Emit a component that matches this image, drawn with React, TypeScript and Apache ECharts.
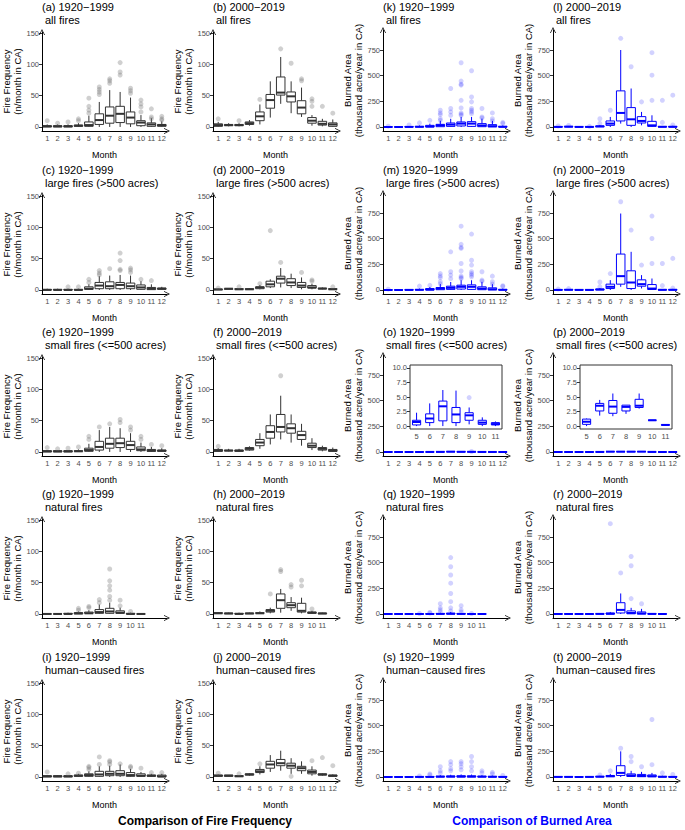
import React, { useEffect, useRef } from "react";
import * as echarts from "echarts";

const FONT = "'Liberation Sans', Arial, Helvetica, sans-serif";

// ---------- categories ----------
const MONTHS = ["1", "2", "3", "4", "5", "6", "7", "8", "9", "10", "11", "12"];
const MONTHS_NAT_EARLY = ["1", "3", "4", "5", "6", "7", "8", "9", "10", "11"];
const MONTHS_NAT_LATE = ["1", "2", "3", "4", "5", "6", "7", "8", "9", "10", "11"];
const INSET_MONTHS = ["5", "6", "7", "8", "9", "10", "11"];
const FREQ_TICKS = [0, 50, 100, 150];
const AREA_TICKS = [0, 250, 500, 750];
const INSET_TICKS = [0, 2.5, 5, 7.5, 10];

// ---------- fire frequency: [min, q1, median, q3, max] per month; outliers [month, value] ----------
const aBox = [[0,0,1,2,4],[0,0,1,2,4],[0,0,1,2,4],[0,1,2,3,6],[0,1,3,8,18],[0,4,11,21,40],[0,6,18,32,59],[0,7,21,33,56],[0,5,15,24,47],[0,2,7,10,19],[0,1,4,6.5,14],[0,1,3,4,9]];
const aOut = [[1,10],[2,6],[3,8],[4,10],[4,13],[5,22],[5,27],[5,33],[5,46],[6,52],[6,56],[6,60],[6,64],[7,70],[7,74],[7,77],[8,83],[8,88],[8,103],[9,54],[9,58],[9,62],[10,24],[10,32],[10,37],[10,43],[11,13],[11,16],[11,29],[12,11],[12,13],[12,17]];
const bBox = [[0,1,3,5,8],[1,2,3,4,6],[1,2,3,4,6],[2,4,6,8,11],[4,10,17,24,36],[15,30,43,52,73],[37,51,55,80,112],[22,40,49,56,73],[16,21,31,42,63],[2,6,10,15,19],[1,3,5,9,13],[0,1,4,6.5,12]];
const bOut = [[1,13],[3,10],[5,44],[7,125],[8,102],[9,74],[9,77],[10,33],[10,41],[10,45],[11,33],[12,22]];
const cBox = [[0,0,0,1,2],[0,0,0,1,2],[0,0,0,1,2],[0,0,0,1,2],[0,1,2,5,9],[0,2,7,12,22],[0,2,6,13,23],[0,2,8,12,24],[0,2,6,11,23],[0,1,4,8,14],[0,0.5,2,4,9],[0,1,2,3,5]];
const cOut = [[3,5],[4,5],[5,12],[5,17],[6,24],[6,27],[6,31],[7,34],[8,31],[8,33],[8,47],[8,59],[9,28],[9,32],[9,35],[10,17],[11,15]];
const dBox = [[0,0,1,1,2],[1,1,2,2,3],[0,1,1,2,3],[0,1,1,2,3],[1,2,4,5,8],[3,5,9,14,17],[4,11,18,22,35],[3,7,12,18,26],[1,4,7,12,20],[1,3,4,7,10],[1,2,2,3,4],[0,1,1,2,3]];
const dOut = [[1,3],[3,5],[5,10],[6,95],[7,44],[9,28],[10,14],[10,16],[12,5]];
const eBox = [[0,0,1,2,3],[0,0,1,2,3],[0,0,1,2,3],[0,1,1,2,4],[0,1,3,6,13],[0,3,8,17,35],[0,6,13,22,40],[0,7,14,22,38],[0,4,11,17,30],[0,2,4,8,15],[0,1,2,4,8],[0,1,2,3,6]];
const eOut = [[1,7],[2,5],[3,6],[4,8],[5,20],[5,25],[6,40],[7,45],[8,47],[8,52],[9,35],[9,40],[10,20],[10,25],[11,12],[12,10]];
const fBox = [[0,1,2,4,6],[1,2,2,3,5],[0,1,2,3,5],[2,3,5,7,9],[5,10,15,20,30],[12,22,32,42,60],[20,32,40,60,90],[15,30,38,45,60],[10,20,27,33,45],[3,7,10,14,22],[1,3,5,7,10],[0,1,2,4,7]];
const fOut = [[1,9],[7,122]];
const gBox = [[0,0,0,0,1],[0,0,0,0,1],[0,0,0,1,2],[0,0,1,2,4],[0,1,1,3,6],[0,1,3,7,15],[0,1,4,9,18],[0,1,2,5,10],[0,0,0,1,2],[0,0,0,0,1]];
const gOut = [[5,6],[5,9],[6,10],[6,12],[7,18],[7,23],[8,22],[8,28],[8,38],[8,45],[8,53],[8,72],[9,13],[9,22],[10,4]];
const hBox = [[0,1,1,2,3],[0,0,1,1,2],[0,0,0,1,2],[0,0,1,1,2],[0,1,1,2,4],[1,3,5,7,10],[2,9,22,32,40],[5,10,14,18,27],[1,3,5,17,26],[0,1,2,3,5],[0,0,1,1,2]];
const hOut = [[6,32],[7,68],[7,71],[8,43],[8,47],[9,45],[9,54],[10,8]];
const iBox = [[0,0,1,2,3],[0,0,1,2,3],[0,0,1,2,3],[0,1,2,3,5],[0,1,3,5,9],[0,1,4,9,17],[0,2,5,9,18],[0,2,5,10,20],[0,1,3,7,13],[0,1,2,5,8],[0,1,2,3,5],[0,0,1,3,5]];
const iOut = [[1,8],[3,5],[4,6],[5,12],[5,15],[5,17],[6,20],[6,32],[7,20],[7,24],[7,26],[8,21],[9,15],[9,17],[10,14],[11,7],[12,7]];
const jBox = [[0,1,2,3,4],[1,1,2,3,3],[0,1,1,2,3],[2,3,4,5,6],[4,7,9,12,17],[8,14,20,25,35],[10,18,22,28,42],[5,14,18,22,30],[5,10,14,17,25],[2,5,8,11,17],[2,3,4,5,6],[0,1,2,3,4]];
const jOut = [[1,6],[3,5],[5,21],[8,1],[10,26],[11,31],[12,18]];

// ---------- burned area (thousand acre / year) ----------
const kBox = [[0,0,0,1,3],[0,0,0,1,2],[0,0,1,4,10],[0,0,2,6,15],[0,0,5,16,33],[0,3,16,26,60],[0,6,23,39,80],[0,10,33,49,98],[0,6,33,52,98],[0,3,15,33,81],[0,1,8,23,59],[0,0,2,6,15]];
const kOut = [[1,8],[3,20],[4,40],[5,65],[6,65],[6,81],[6,120],[6,137],[6,163],[7,114],[7,147],[7,180],[7,375],[8,114],[8,124],[8,137],[8,186],[8,260],[8,408],[8,417],[8,447],[8,626],[9,130],[9,147],[9,163],[9,180],[9,245],[9,293],[9,548],[10,88],[10,98],[10,180],[11,59],[11,81],[11,137],[12,35],[12,45]];
const lBox = [[0,0,1,3,6],[0,1,3,6,10],[0,0,1,2,4],[0,0,1,2,4],[0,2,6,10,20],[0,16,33,59,98],[33,59,137,352,750],[0,16,75,189,375],[16,39,59,101,147],[0,6,16,55,114],[0,0,2,5,10],[0,0,2,5,12]];
const lOut = [[1,10],[2,15],[4,6],[5,35],[5,80],[6,163],[7,864],[8,587],[9,245],[10,260],[10,505],[10,724],[11,45],[11,260],[12,20],[12,310]];
const mBox = [[0,0,0,1,3],[0,0,0,1,2],[0,0,1,3,8],[0,0,2,5,14],[0,0,4,14,30],[0,3,14,24,58],[0,6,21,37,78],[0,9,31,47,95],[0,6,31,50,95],[0,3,14,31,79],[0,1,7,21,57],[0,0,2,5,14]];
const mOut = [[1,8],[4,38],[5,45],[6,60],[6,80],[6,120],[6,137],[6,160],[7,110],[7,145],[7,178],[7,372],[8,112],[8,122],[8,135],[8,185],[8,258],[8,405],[8,415],[8,445],[8,622],[9,128],[9,145],[9,160],[9,178],[9,243],[9,290],[9,545],[10,86],[10,96],[10,178],[11,57],[11,80],[11,135],[12,35],[12,42]];
const nBox = [[0,0,1,2,5],[0,1,2,5,9],[0,0,1,2,4],[0,0,1,2,3],[0,1,5,9,18],[0,14,31,57,96],[31,57,135,350,745],[0,14,73,187,372],[15,37,57,99,145],[0,5,14,53,112],[0,0,2,4,9],[0,0,2,4,11]];
const nOut = [[1,9],[2,14],[5,32],[5,78],[6,160],[7,860],[8,584],[9,243],[10,258],[10,502],[10,720],[11,43],[11,258],[12,18],[12,308]];
const oBox = [[0,0,0,0.1,0.3],[0,0,0,0.1,0.3],[0,0,0.1,0.2,0.5],[0,0.1,0.2,0.4,0.8],[0,0.2,0.7,1.0,2.3],[0,0.6,1.3,2.1,3.9],[0,0.9,3.4,4.3,6.2],[0,0.6,2.0,3.2,6.1],[0.3,1.0,1.85,2.3,3.2],[0,0.3,0.6,1.0,1.5],[0,0.2,0.35,0.6,0.8],[0,0,0.1,0.2,0.4]];
const oOut = [[9,4.9]];
const pBox = [[0,0,0.1,0.2,0.4],[0,0,0.1,0.2,0.4],[0,0,0.1,0.2,0.3],[0,0.1,0.2,0.3,0.5],[0,0.3,0.75,1.2,1.3],[1.8,2.6,3.5,3.9,4.5],[1.7,2.2,3.35,4.4,5.6],[2.1,2.6,3.3,3.6,3.6],[3.0,3.2,3.5,4.6,5.6],[0.95,1,1,1,1.05],[0.1,0.15,0.2,0.25,0.3],[0,0,0.05,0.1,0.2]];
const pOut = [];
const qBox = [[0,0,0,0,0],[0,0,0,0,0],[0,0,0,0,1],[0,0,0,1,2],[0,0,0,2,5],[0,0,1,5,12],[0,0,2,8,20],[0,0,1,4,10],[0,0,0,1,2],[0,0,0,0,1]];
const qOut = [[5,5],[6,10],[6,15],[7,20],[7,40],[7,60],[7,100],[8,30],[8,60],[8,120],[8,200],[8,300],[8,380],[8,460],[8,550],[9,20],[9,40],[9,80],[10,5]];
const rBox = [[0,0,0,1,2],[0,0,0,1,2],[0,0,0,0,1],[0,0,0,0,1],[0,0,1,2,4],[0,0,2,10,20],[0,10,40,110,200],[0,2,10,30,60],[0,0,5,20,50],[0,0,1,3,6],[0,0,0,1,2]];
const rOut = [[6,880],[7,400],[8,150],[8,470],[8,560],[9,100]];
const sBox = [[0,0,0,1,2],[0,0,0,1,2],[0,0,0,1,3],[0,0,1,2,5],[0,0,1,4,9],[0,1,3,8,18],[0,1,4,10,22],[0,1,4,12,25],[0,1,4,11,24],[0,1,3,8,18],[0,0,2,6,14],[0,0,1,3,7]];
const sOut = [[4,10],[5,20],[5,30],[6,40],[6,60],[6,100],[7,60],[7,80],[7,120],[7,150],[8,70],[8,100],[8,130],[8,150],[9,60],[9,100],[9,150],[9,200],[10,40],[10,60],[11,30],[11,45],[12,15]];
const tBox = [[0,0,1,2,4],[0,0,1,2,4],[0,0,0,1,2],[0,0,1,2,4],[0,1,3,6,12],[0,3,8,15,30],[0,15,40,110,250],[0,5,15,30,60],[0,3,10,25,50],[0,2,8,20,40],[0,0,2,6,12],[0,0,1,3,8]];
const tOut = [[5,20],[6,60],[7,280],[8,150],[8,200],[9,100],[10,560],[10,120],[11,40],[12,25]];

// ---------- panel definitions ----------
const COL_X = [42, 213, 383, 553];
const ROW_Y = [131, 294, 456, 618, 781];

type Panel = { t1: string; t2: string; kind: "freq" | "area"; col: number; row: number; cats: string[]; box: number[][]; out: number[][]; inset?: boolean };

const PANELS: Panel[] = [
  { t1: "(a) 1920\u22121999", t2: "all fires", kind: "freq", col: 0, row: 0, cats: MONTHS, box: aBox, out: aOut },
  { t1: "(b) 2000\u22122019", t2: "all fires", kind: "freq", col: 1, row: 0, cats: MONTHS, box: bBox, out: bOut },
  { t1: "(c) 1920\u22121999", t2: "large fires (>500 acres)", kind: "freq", col: 0, row: 1, cats: MONTHS, box: cBox, out: cOut },
  { t1: "(d) 2000\u22122019", t2: "large fires (>500 acres)", kind: "freq", col: 1, row: 1, cats: MONTHS, box: dBox, out: dOut },
  { t1: "(e) 1920\u22121999", t2: "small fires (<=500 acres)", kind: "freq", col: 0, row: 2, cats: MONTHS, box: eBox, out: eOut },
  { t1: "(f) 2000\u22122019", t2: "small fires (<=500 acres)", kind: "freq", col: 1, row: 2, cats: MONTHS, box: fBox, out: fOut },
  { t1: "(g) 1920\u22121999", t2: "natural fires", kind: "freq", col: 0, row: 3, cats: MONTHS_NAT_EARLY, box: gBox, out: gOut },
  { t1: "(h) 2000\u22122019", t2: "natural fires", kind: "freq", col: 1, row: 3, cats: MONTHS_NAT_LATE, box: hBox, out: hOut },
  { t1: "(i) 1920\u22121999", t2: "human\u2212caused fires", kind: "freq", col: 0, row: 4, cats: MONTHS, box: iBox, out: iOut },
  { t1: "(j) 2000\u22122019", t2: "human\u2212caused fires", kind: "freq", col: 1, row: 4, cats: MONTHS, box: jBox, out: jOut },
  { t1: "(k) 1920\u22121999", t2: "all fires", kind: "area", col: 2, row: 0, cats: MONTHS, box: kBox, out: kOut },
  { t1: "(l) 2000\u22122019", t2: "all fires", kind: "area", col: 3, row: 0, cats: MONTHS, box: lBox, out: lOut },
  { t1: "(m) 1920\u22121999", t2: "large fires (>500 acres)", kind: "area", col: 2, row: 1, cats: MONTHS, box: mBox, out: mOut },
  { t1: "(n) 2000\u22122019", t2: "large fires (>500 acres)", kind: "area", col: 3, row: 1, cats: MONTHS, box: nBox, out: nOut },
  { t1: "(o) 1920\u22121999", t2: "small fires (<=500 acres)", kind: "area", col: 2, row: 2, cats: MONTHS, box: oBox, out: oOut, inset: true },
  { t1: "(p) 2000\u22122019", t2: "small fires (<=500 acres)", kind: "area", col: 3, row: 2, cats: MONTHS, box: pBox, out: pOut, inset: true },
  { t1: "(q) 1920\u22121999", t2: "natural fires", kind: "area", col: 2, row: 3, cats: MONTHS_NAT_EARLY, box: qBox, out: qOut },
  { t1: "(r) 2000\u22122019", t2: "natural fires", kind: "area", col: 3, row: 3, cats: MONTHS_NAT_LATE, box: rBox, out: rOut },
  { t1: "(s) 1920\u22121999", t2: "human\u2212caused fires", kind: "area", col: 2, row: 4, cats: MONTHS, box: sBox, out: sOut },
  { t1: "(t) 2000\u22122019", t2: "human\u2212caused fires", kind: "area", col: 3, row: 4, cats: MONTHS, box: tBox, out: tOut },
];

const SPEC = {
  freq: { min: -6.5, max: 152, ticks: FREQ_TICKS, H: 99, name: "Fire Frequency\n(n/month in CA)", gap: 17, stroke: "#333333", outColor: "rgba(110,110,110,0.4)" },
  area: { min: -39, max: 945, ticks: AREA_TICKS, H: 101, name: "Burned Area\n(thousand acre/year in CA)", gap: 19, stroke: "#0000ff", outColor: "rgba(0,0,255,0.22)" },
};

const CHEVRON = "path://M0,10 L5,0 L10,10 L8.7,10 L5,2.6 L1.3,10 Z";
const PLOT_W = 125;

function boxRenderer(stroke: string, frac: number) {
  return (params: any, api: any) => {
    const xi = api.value(0);
    const vals = [1, 2, 3, 4, 5].map((d) => api.coord([xi, api.value(d)]));
    const cx = vals[0][0];
    const w = api.size([1, 0])[0] * frac;
    const [pMin, pQ1, pMed, pQ3, pMax] = vals.map((v: number[]) => v[1]);
    const ls = { stroke, lineWidth: 1, fill: "none" };
    return {
      type: "group",
      children: [
        { type: "line", shape: { x1: cx, y1: pQ1, x2: cx, y2: pMin }, style: ls },
        { type: "line", shape: { x1: cx, y1: pQ3, x2: cx, y2: pMax }, style: ls },
        { type: "rect", shape: { x: cx - w / 2, y: pQ3, width: w, height: Math.max(pQ1 - pQ3, 0.01) }, style: { stroke, lineWidth: 1, fill: "#ffffff" } },
        { type: "line", shape: { x1: cx - w / 2, y1: pMed, x2: cx + w / 2, y2: pMed }, style: { stroke, lineWidth: 2 } },
      ],
    };
  };
}

function padCats(cats: string[]) {
  const out = cats.slice();
  let k = 1;
  while (out.length < 12) out.push(" ".repeat(k++));
  return out;
}

function buildOption() {
  const grid: any[] = [];
  const xAxis: any[] = [];
  const yAxis: any[] = [];
  const series: any[] = [];
  const graphic: any[] = [];

  PANELS.forEach((p) => {
    const s = SPEC[p.kind];
    const gi = grid.length;
    const left = COL_X[p.col];
    const bottom = ROW_Y[p.row];
    grid.push({ left, top: bottom - s.H, width: PLOT_W, height: s.H });
    const cats = padCats(p.cats);
    xAxis.push({
      gridIndex: gi, type: "category", data: cats, boundaryGap: true,
      axisLine: { onZero: false, symbol: ["none", CHEVRON], symbolSize: [7, 6], lineStyle: { color: "#000", width: 1 } },
      axisTick: { alignWithLabel: true, length: 3, interval: (_i: number, v: string) => v.trim() !== "", lineStyle: { color: "#333" } },
      axisLabel: { interval: 0, fontSize: 7.5, color: "#4d4d4d", margin: 3, fontFamily: FONT },
      splitLine: { show: false },
      name: "Month", nameLocation: "middle", nameGap: 19,
      nameTextStyle: { fontSize: 9, color: "#000", fontFamily: FONT },
    });
    yAxis.push({
      gridIndex: gi, type: "value", min: s.min, max: s.max,
      axisLine: { show: true, symbol: ["none", CHEVRON], symbolSize: [7, 6], lineStyle: { color: "#000", width: 1 } },
      axisTick: { show: true, length: 3, customValues: s.ticks, lineStyle: { color: "#333" } },
      axisLabel: { customValues: s.ticks, fontSize: 7.5, color: "#4d4d4d", margin: 3, fontFamily: FONT },
      splitLine: { show: false },
      name: s.name, nameLocation: "middle", nameGap: s.gap, nameRotate: 90,
      nameTextStyle: { fontSize: 9.5, lineHeight: 10.5, color: "#000", fontFamily: FONT },
    });
    series.push({
      type: "custom", xAxisIndex: gi, yAxisIndex: gi, silent: true, clip: false,
      renderItem: boxRenderer(s.stroke, 0.82),
      encode: { x: 0, y: [1, 2, 3, 4, 5] },
      data: p.box.map((b, i) => [i, ...b]),
    });
    series.push({
      type: "scatter", xAxisIndex: gi, yAxisIndex: gi, silent: true, symbolSize: 5,
      itemStyle: { color: s.outColor },
      data: p.out.map(([m, v]) => [p.cats.indexOf(String(m)), v]),
    });
    graphic.push({ type: "text", x: left, y: bottom - 124, style: { text: p.t1, fontSize: 11, fontFamily: FONT, fill: "#000", verticalAlign: "middle", align: "left" } });
    graphic.push({ type: "text", x: left + 3, y: bottom - 111, style: { text: p.t2, fontSize: 11, fontFamily: FONT, fill: "#000", verticalAlign: "middle", align: "left" } });

    if (p.inset) {
      const ii = grid.length;
      const ileft = left + 27;
      grid.push({ left: ileft, top: 365, width: 92, height: 64, show: true, borderColor: "#333", borderWidth: 1, backgroundColor: "#ffffff", z: 5 });
      const i0 = p.cats.indexOf(INSET_MONTHS[0]);
      const iBoxes = p.box.slice(i0, i0 + INSET_MONTHS.length);
      xAxis.push({
        gridIndex: ii, type: "category", data: INSET_MONTHS, boundaryGap: true, z: 6,
        axisLine: { show: false, onZero: false },
        axisTick: { alignWithLabel: true, length: 3, lineStyle: { color: "#333" } },
        axisLabel: { interval: 0, fontSize: 7.5, color: "#4d4d4d", margin: 3, fontFamily: FONT },
        splitLine: { show: false },
      });
      yAxis.push({
        gridIndex: ii, type: "value", min: -0.5, max: 10.5, z: 6,
        axisLine: { show: false },
        axisTick: { show: true, length: 3, customValues: INSET_TICKS, lineStyle: { color: "#333" } },
        axisLabel: { customValues: INSET_TICKS, formatter: (v: number) => v.toFixed(1), fontSize: 7.5, color: "#4d4d4d", margin: 3, fontFamily: FONT },
        splitLine: { show: false },
      });
      series.push({
        type: "custom", xAxisIndex: ii, yAxisIndex: ii, silent: true, z: 7,
        renderItem: boxRenderer(s.stroke, 0.62),
        encode: { x: 0, y: [1, 2, 3, 4, 5] },
        data: iBoxes.map((b, i) => [i, ...b]),
      });
      series.push({
        type: "scatter", xAxisIndex: ii, yAxisIndex: ii, silent: true, symbolSize: 5, z: 7,
        itemStyle: { color: s.outColor },
        data: p.out.filter(([m]) => INSET_MONTHS.includes(String(m))).map(([m, v]) => [INSET_MONTHS.indexOf(String(m)), v]),
      });
    }
  });

  graphic.push({ type: "text", x: 205, y: 821, style: { text: "Comparison of Fire Frequency", fontSize: 12, fontWeight: "bold", fontFamily: FONT, fill: "#000", align: "center", verticalAlign: "middle" } });
  graphic.push({ type: "text", x: 532, y: 821, style: { text: "Comparison of Burned Area", fontSize: 12, fontWeight: "bold", fontFamily: FONT, fill: "#0000ff", align: "center", verticalAlign: "middle" } });

  return { animation: false, backgroundColor: "#ffffff", grid, xAxis, yAxis, series, graphic };
}

export default function App() {
  const ref = useRef<HTMLDivElement>(null);
  useEffect(() => {
    if (!ref.current) return;
    const chart = echarts.init(ref.current, undefined, { renderer: "svg" });
    chart.setOption(buildOption() as any);
    return () => chart.dispose();
  }, []);
  return <div ref={ref} style={{ position: "absolute", left: 0, top: 0, width: 685, height: 830, background: "#fff" }} />;
}
